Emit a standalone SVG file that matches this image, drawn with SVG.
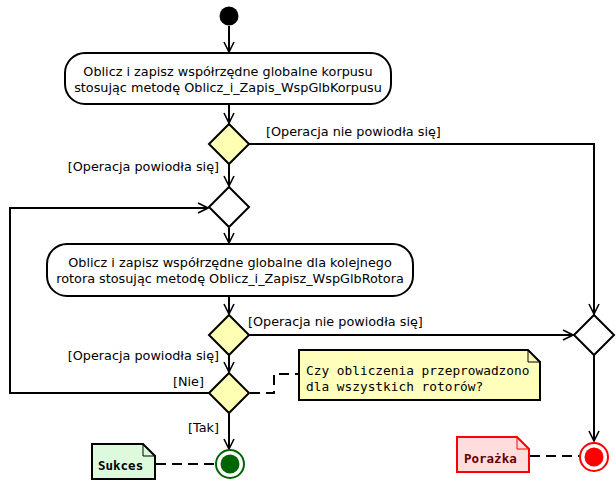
<svg xmlns="http://www.w3.org/2000/svg" width="616" height="482" viewBox="0 0 616 482">
<defs>
<marker id="arr" viewBox="0 0 12 12" refX="11" refY="6" markerWidth="12" markerHeight="12" markerUnits="userSpaceOnUse" orient="auto">
<path d="M1,1 L11,6 L1,11" fill="none" stroke="#000" stroke-width="1.6"/>
</marker>
<style>
.ln{fill:none;stroke:#000;stroke-width:2}
.dash{fill:none;stroke:#000;stroke-width:2;stroke-dasharray:10,6}
.act{fill:#fff;stroke:#000;stroke-width:2}
.dec{fill:#ffffb4;stroke:#000;stroke-width:2}
.mrg{fill:#fff;stroke:#000;stroke-width:2}
.t{font-family:"DejaVu Sans",sans-serif;font-size:12.8px;fill:#000}
.m{font-family:"DejaVu Sans Mono",monospace;font-size:12.8px;fill:#000}
.b{font-family:"DejaVu Sans Mono",monospace;font-size:12.5px;font-weight:bold}
</style>
</defs>
<g id="connectors">
<path class="ln" d="M229,26 L229,52" marker-end="url(#arr)"/>
<path class="ln" d="M229,104 L229,123" marker-end="url(#arr)"/>
<path class="ln" d="M229,164 L229,186" marker-end="url(#arr)"/>
<path class="ln" d="M229,228 L229,243" marker-end="url(#arr)"/>
<path class="ln" d="M229,296 L229,314" marker-end="url(#arr)"/>
<path class="ln" d="M229,354 L229,372" marker-end="url(#arr)"/>
<path class="ln" d="M229,413 L229,449" marker-end="url(#arr)"/>
<path class="ln" d="M209,393 L10,393 L10,208 L208,208" marker-end="url(#arr)"/>
<path class="ln" d="M249,144 L594,144 L594,314" marker-end="url(#arr)"/>
<path class="ln" d="M249,335 L573,335" marker-end="url(#arr)"/>
<path class="ln" d="M594,355 L594,441" marker-end="url(#arr)"/>
<path class="dash" d="M250,393 L274,393 L274,374 L299,374"/>
<path class="dash" d="M156,464 L215,464"/>
<path class="dash" d="M530,456 L579,456"/>
<text class="t" x="266" y="136">[Operacja nie powiodła się]</text>
<text class="t" x="219" y="171" text-anchor="end">[Operacja powiodła się]</text>
<text class="t" x="248" y="326">[Operacja nie powiodła się]</text>
<text class="t" x="219" y="360" text-anchor="end">[Operacja powiodła się]</text>
<text class="t" x="204" y="386" text-anchor="end">[Nie]</text>
<text class="t" x="219" y="432" text-anchor="end">[Tak]</text>
</g>
<g id="start"><circle cx="229" cy="16" r="9.5" fill="#000"/></g>
<g id="action1">
<rect class="act" x="65" y="53" width="326" height="51" rx="20" ry="20"/>
<text class="t" x="228" y="76" text-anchor="middle">Oblicz i zapisz współrzędne globalne korpusu</text>
<text class="t" x="228" y="92" text-anchor="middle">stosując metodę Oblicz_i_Zapis_WspGlbKorpusu</text>
</g>
<g id="decision1"><polygon class="dec" points="229,124 249,144 229,164 209,144"/></g>
<g id="merge1"><polygon class="mrg" points="229,187 249,207 229,227 209,207"/></g>
<g id="action2">
<rect class="act" x="47" y="244" width="366" height="52" rx="20" ry="20"/>
<text class="t" x="230" y="267" text-anchor="middle">Oblicz i zapisz współrzędne globalne dla kolejnego</text>
<text class="t" x="230" y="283" text-anchor="middle">rotora stosując metodę Oblicz_i_Zapisz_WspGlbRotora</text>
</g>
<g id="decision2"><polygon class="dec" points="229,315 249,335 229,355 209,335"/></g>
<g id="decision3"><polygon class="dec" points="229,373 249,393 229,413 209,393"/></g>
<g id="merge2"><polygon class="mrg" points="594,315 614,335 594,355 574,335"/></g>
<g id="note">
<path d="M299,350 L528,350 L540,362 L540,400 L299,400 Z" fill="#ffffbb" stroke="#000" stroke-width="2"/>
<path d="M528,350 L528,362 L540,362" fill="none" stroke="#000" stroke-width="1"/>
<text class="m" x="306" y="375">Czy obliczenia przeprowadzono</text>
<text class="m" x="306" y="391">dla wszystkich rotorów?</text>
</g>
<g id="endSuccess">
<circle cx="230" cy="464" r="14" fill="#fff" stroke="#006400" stroke-width="2"/>
<circle cx="230" cy="464" r="9.5" fill="#006400"/>
</g>
<g id="noteSukces">
<path d="M92,444 L143,444 L155,456 L155,479 L92,479 Z" fill="#ddfadd" stroke="#000" stroke-width="2"/>
<path d="M143,444 L143,456 L155,456" fill="none" stroke="#000" stroke-width="1"/>
<text class="b" x="98" y="470" fill="#000">Sukces</text>
</g>
<g id="endFailure">
<circle cx="594" cy="457" r="14" fill="#fff" stroke="#ff0000" stroke-width="2"/>
<circle cx="594" cy="457" r="9.5" fill="#ff0000"/>
</g>
<g id="notePorazka">
<path d="M457,437 L517,437 L529,449 L529,472 L457,472 Z" fill="#ffdddd" stroke="#ff0000" stroke-width="2"/>
<path d="M517,437 L517,449 L529,449" fill="none" stroke="#ff0000" stroke-width="1"/>
<text class="b" x="464" y="463" fill="#660000">Porażka</text>
</g>
</svg>
